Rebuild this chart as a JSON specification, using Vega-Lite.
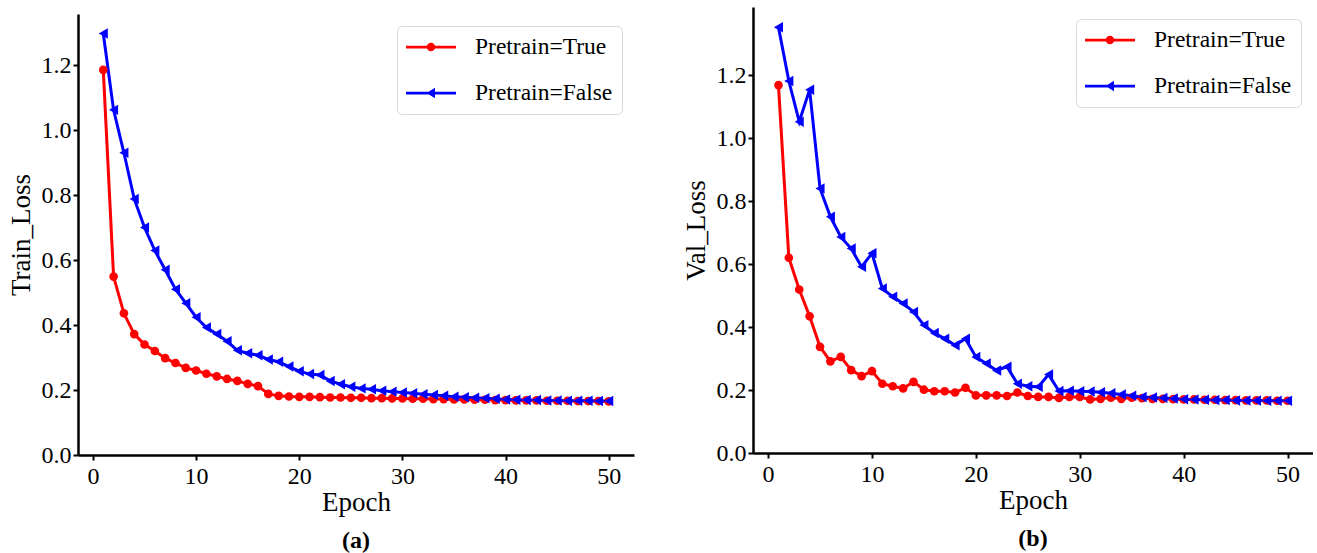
{
  "$schema": "https://vega.github.io/schema/vega-lite/v6.json",
  "padding": {"left": 7, "top": 7, "right": 0, "bottom": 0},
  "background": "white",
  "config": {
    "font": "Liberation Serif",
    "view": {"stroke": null},
    "axis": {
      "labelFont": "Liberation Serif", "titleFont": "Liberation Serif",
      "labelFontSize": 24, "titleFontSize": 27, "titleFontWeight": "normal",
      "labelColor": "black", "titleColor": "black",
      "domainColor": "black", "domainWidth": 2.5, "tickColor": "black", "tickWidth": 2, "tickSize": 5,
      "grid": false
    },
    "axisX": {"labelPadding": 4, "titlePadding": 1},
    "axisY": {"labelPadding": 2, "titlePadding": 6},
    "title": {"font": "Liberation Serif", "fontSize": 24, "fontWeight": "bold", "color": "black", "orient": "bottom", "offset": 14, "anchor": "middle"},
    "legend": {
      "orient": "top-right", "offset": 12, "padding": 9,
      "strokeColor": "#d9d9d9", "fillColor": "white", "cornerRadius": 5,
      "labelFont": "Liberation Serif", "labelFontSize": 23.5, "labelColor": "black",
      "labelOffset": 19, "symbolSize": 2500, "rowPadding": 22, "clipHeight": 24, "symbolStrokeWidth": 0,
      "symbolOpacity": 1, "labelLimit": 300
    }
  },
  "datasets": {
    "train": [
      {"e":1,"v":1.185,"s":"Pretrain=True"},{"e":2,"v":0.549,"s":"Pretrain=True"},{"e":3,"v":0.436,"s":"Pretrain=True"},{"e":4,"v":0.372,"s":"Pretrain=True"},{"e":5,"v":0.340,"s":"Pretrain=True"},
      {"e":6,"v":0.320,"s":"Pretrain=True"},{"e":7,"v":0.298,"s":"Pretrain=True"},{"e":8,"v":0.283,"s":"Pretrain=True"},{"e":9,"v":0.268,"s":"Pretrain=True"},{"e":10,"v":0.260,"s":"Pretrain=True"},
      {"e":11,"v":0.250,"s":"Pretrain=True"},{"e":12,"v":0.242,"s":"Pretrain=True"},{"e":13,"v":0.234,"s":"Pretrain=True"},{"e":14,"v":0.228,"s":"Pretrain=True"},{"e":15,"v":0.219,"s":"Pretrain=True"},
      {"e":16,"v":0.212,"s":"Pretrain=True"},{"e":17,"v":0.188,"s":"Pretrain=True"},{"e":18,"v":0.182,"s":"Pretrain=True"},{"e":19,"v":0.180,"s":"Pretrain=True"},{"e":20,"v":0.179,"s":"Pretrain=True"},
      {"e":21,"v":0.179,"s":"Pretrain=True"},{"e":22,"v":0.178,"s":"Pretrain=True"},{"e":23,"v":0.177,"s":"Pretrain=True"},{"e":24,"v":0.177,"s":"Pretrain=True"},{"e":25,"v":0.176,"s":"Pretrain=True"},
      {"e":26,"v":0.176,"s":"Pretrain=True"},{"e":27,"v":0.175,"s":"Pretrain=True"},{"e":28,"v":0.175,"s":"Pretrain=True"},{"e":29,"v":0.174,"s":"Pretrain=True"},{"e":30,"v":0.174,"s":"Pretrain=True"},
      {"e":31,"v":0.173,"s":"Pretrain=True"},{"e":32,"v":0.173,"s":"Pretrain=True"},{"e":33,"v":0.172,"s":"Pretrain=True"},{"e":34,"v":0.172,"s":"Pretrain=True"},{"e":35,"v":0.171,"s":"Pretrain=True"},
      {"e":36,"v":0.171,"s":"Pretrain=True"},{"e":37,"v":0.170,"s":"Pretrain=True"},{"e":38,"v":0.170,"s":"Pretrain=True"},{"e":39,"v":0.169,"s":"Pretrain=True"},{"e":40,"v":0.169,"s":"Pretrain=True"},
      {"e":41,"v":0.168,"s":"Pretrain=True"},{"e":42,"v":0.168,"s":"Pretrain=True"},{"e":43,"v":0.168,"s":"Pretrain=True"},{"e":44,"v":0.167,"s":"Pretrain=True"},{"e":45,"v":0.167,"s":"Pretrain=True"},
      {"e":46,"v":0.167,"s":"Pretrain=True"},{"e":47,"v":0.166,"s":"Pretrain=True"},{"e":48,"v":0.166,"s":"Pretrain=True"},{"e":49,"v":0.166,"s":"Pretrain=True"},{"e":50,"v":0.165,"s":"Pretrain=True"},
      {"e":1,"v":1.297,"s":"Pretrain=False"},{"e":2,"v":1.062,"s":"Pretrain=False"},{"e":3,"v":0.930,"s":"Pretrain=False"},{"e":4,"v":0.788,"s":"Pretrain=False"},{"e":5,"v":0.700,"s":"Pretrain=False"},
      {"e":6,"v":0.629,"s":"Pretrain=False"},{"e":7,"v":0.570,"s":"Pretrain=False"},{"e":8,"v":0.510,"s":"Pretrain=False"},{"e":9,"v":0.467,"s":"Pretrain=False"},{"e":10,"v":0.424,"s":"Pretrain=False"},
      {"e":11,"v":0.392,"s":"Pretrain=False"},{"e":12,"v":0.372,"s":"Pretrain=False"},{"e":13,"v":0.350,"s":"Pretrain=False"},{"e":14,"v":0.322,"s":"Pretrain=False"},{"e":15,"v":0.313,"s":"Pretrain=False"},
      {"e":16,"v":0.307,"s":"Pretrain=False"},{"e":17,"v":0.294,"s":"Pretrain=False"},{"e":18,"v":0.287,"s":"Pretrain=False"},{"e":19,"v":0.272,"s":"Pretrain=False"},{"e":20,"v":0.258,"s":"Pretrain=False"},
      {"e":21,"v":0.249,"s":"Pretrain=False"},{"e":22,"v":0.246,"s":"Pretrain=False"},{"e":23,"v":0.228,"s":"Pretrain=False"},{"e":24,"v":0.218,"s":"Pretrain=False"},{"e":25,"v":0.210,"s":"Pretrain=False"},
      {"e":26,"v":0.205,"s":"Pretrain=False"},{"e":27,"v":0.202,"s":"Pretrain=False"},{"e":28,"v":0.198,"s":"Pretrain=False"},{"e":29,"v":0.195,"s":"Pretrain=False"},{"e":30,"v":0.192,"s":"Pretrain=False"},
      {"e":31,"v":0.190,"s":"Pretrain=False"},{"e":32,"v":0.187,"s":"Pretrain=False"},{"e":33,"v":0.185,"s":"Pretrain=False"},{"e":34,"v":0.182,"s":"Pretrain=False"},{"e":35,"v":0.179,"s":"Pretrain=False"},
      {"e":36,"v":0.178,"s":"Pretrain=False"},{"e":37,"v":0.176,"s":"Pretrain=False"},{"e":38,"v":0.175,"s":"Pretrain=False"},{"e":39,"v":0.173,"s":"Pretrain=False"},{"e":40,"v":0.171,"s":"Pretrain=False"},
      {"e":41,"v":0.170,"s":"Pretrain=False"},{"e":42,"v":0.169,"s":"Pretrain=False"},{"e":43,"v":0.169,"s":"Pretrain=False"},{"e":44,"v":0.168,"s":"Pretrain=False"},{"e":45,"v":0.168,"s":"Pretrain=False"},
      {"e":46,"v":0.167,"s":"Pretrain=False"},{"e":47,"v":0.167,"s":"Pretrain=False"},{"e":48,"v":0.167,"s":"Pretrain=False"},{"e":49,"v":0.166,"s":"Pretrain=False"},{"e":50,"v":0.166,"s":"Pretrain=False"}
    ],
    "val": [
      {"e":1,"v":1.168,"s":"Pretrain=True"},{"e":2,"v":0.620,"s":"Pretrain=True"},{"e":3,"v":0.519,"s":"Pretrain=True"},{"e":4,"v":0.434,"s":"Pretrain=True"},{"e":5,"v":0.337,"s":"Pretrain=True"},
      {"e":6,"v":0.291,"s":"Pretrain=True"},{"e":7,"v":0.305,"s":"Pretrain=True"},{"e":8,"v":0.263,"s":"Pretrain=True"},{"e":9,"v":0.244,"s":"Pretrain=True"},{"e":10,"v":0.260,"s":"Pretrain=True"},
      {"e":11,"v":0.220,"s":"Pretrain=True"},{"e":12,"v":0.212,"s":"Pretrain=True"},{"e":13,"v":0.205,"s":"Pretrain=True"},{"e":14,"v":0.226,"s":"Pretrain=True"},{"e":15,"v":0.201,"s":"Pretrain=True"},
      {"e":16,"v":0.196,"s":"Pretrain=True"},{"e":17,"v":0.196,"s":"Pretrain=True"},{"e":18,"v":0.192,"s":"Pretrain=True"},{"e":19,"v":0.207,"s":"Pretrain=True"},{"e":20,"v":0.183,"s":"Pretrain=True"},
      {"e":21,"v":0.183,"s":"Pretrain=True"},{"e":22,"v":0.183,"s":"Pretrain=True"},{"e":23,"v":0.181,"s":"Pretrain=True"},{"e":24,"v":0.192,"s":"Pretrain=True"},{"e":25,"v":0.181,"s":"Pretrain=True"},
      {"e":26,"v":0.178,"s":"Pretrain=True"},{"e":27,"v":0.178,"s":"Pretrain=True"},{"e":28,"v":0.175,"s":"Pretrain=True"},{"e":29,"v":0.178,"s":"Pretrain=True"},{"e":30,"v":0.178,"s":"Pretrain=True"},
      {"e":31,"v":0.170,"s":"Pretrain=True"},{"e":32,"v":0.172,"s":"Pretrain=True"},{"e":33,"v":0.176,"s":"Pretrain=True"},{"e":34,"v":0.172,"s":"Pretrain=True"},{"e":35,"v":0.176,"s":"Pretrain=True"},
      {"e":36,"v":0.174,"s":"Pretrain=True"},{"e":37,"v":0.172,"s":"Pretrain=True"},{"e":38,"v":0.172,"s":"Pretrain=True"},{"e":39,"v":0.171,"s":"Pretrain=True"},{"e":40,"v":0.170,"s":"Pretrain=True"},
      {"e":41,"v":0.170,"s":"Pretrain=True"},{"e":42,"v":0.169,"s":"Pretrain=True"},{"e":43,"v":0.169,"s":"Pretrain=True"},{"e":44,"v":0.168,"s":"Pretrain=True"},{"e":45,"v":0.168,"s":"Pretrain=True"},
      {"e":46,"v":0.167,"s":"Pretrain=True"},{"e":47,"v":0.167,"s":"Pretrain=True"},{"e":48,"v":0.167,"s":"Pretrain=True"},{"e":49,"v":0.166,"s":"Pretrain=True"},{"e":50,"v":0.166,"s":"Pretrain=True"},
      {"e":1,"v":1.352,"s":"Pretrain=False"},{"e":2,"v":1.181,"s":"Pretrain=False"},{"e":3,"v":1.052,"s":"Pretrain=False"},{"e":4,"v":1.153,"s":"Pretrain=False"},{"e":5,"v":0.840,"s":"Pretrain=False"},
      {"e":6,"v":0.750,"s":"Pretrain=False"},{"e":7,"v":0.686,"s":"Pretrain=False"},{"e":8,"v":0.649,"s":"Pretrain=False"},{"e":9,"v":0.591,"s":"Pretrain=False"},{"e":10,"v":0.634,"s":"Pretrain=False"},
      {"e":11,"v":0.522,"s":"Pretrain=False"},{"e":12,"v":0.496,"s":"Pretrain=False"},{"e":13,"v":0.475,"s":"Pretrain=False"},{"e":14,"v":0.448,"s":"Pretrain=False"},{"e":15,"v":0.406,"s":"Pretrain=False"},
      {"e":16,"v":0.381,"s":"Pretrain=False"},{"e":17,"v":0.363,"s":"Pretrain=False"},{"e":18,"v":0.342,"s":"Pretrain=False"},{"e":19,"v":0.363,"s":"Pretrain=False"},{"e":20,"v":0.305,"s":"Pretrain=False"},
      {"e":21,"v":0.284,"s":"Pretrain=False"},{"e":22,"v":0.262,"s":"Pretrain=False"},{"e":23,"v":0.274,"s":"Pretrain=False"},{"e":24,"v":0.220,"s":"Pretrain=False"},{"e":25,"v":0.212,"s":"Pretrain=False"},
      {"e":26,"v":0.210,"s":"Pretrain=False"},{"e":27,"v":0.249,"s":"Pretrain=False"},{"e":28,"v":0.197,"s":"Pretrain=False"},{"e":29,"v":0.198,"s":"Pretrain=False"},{"e":30,"v":0.196,"s":"Pretrain=False"},
      {"e":31,"v":0.195,"s":"Pretrain=False"},{"e":32,"v":0.193,"s":"Pretrain=False"},{"e":33,"v":0.190,"s":"Pretrain=False"},{"e":34,"v":0.186,"s":"Pretrain=False"},{"e":35,"v":0.182,"s":"Pretrain=False"},
      {"e":36,"v":0.178,"s":"Pretrain=False"},{"e":37,"v":0.176,"s":"Pretrain=False"},{"e":38,"v":0.175,"s":"Pretrain=False"},{"e":39,"v":0.173,"s":"Pretrain=False"},{"e":40,"v":0.171,"s":"Pretrain=False"},
      {"e":41,"v":0.170,"s":"Pretrain=False"},{"e":42,"v":0.169,"s":"Pretrain=False"},{"e":43,"v":0.168,"s":"Pretrain=False"},{"e":44,"v":0.168,"s":"Pretrain=False"},{"e":45,"v":0.167,"s":"Pretrain=False"},
      {"e":46,"v":0.167,"s":"Pretrain=False"},{"e":47,"v":0.167,"s":"Pretrain=False"},{"e":48,"v":0.166,"s":"Pretrain=False"},{"e":49,"v":0.166,"s":"Pretrain=False"},{"e":50,"v":0.166,"s":"Pretrain=False"}
    ]
  },
  "spacing": 48,
  "resolve": {"scale": {"color": "independent", "stroke": "independent", "shape": "independent", "size": "independent"}, "legend": {"color": "independent", "stroke": "independent", "shape": "independent", "size": "independent"}},
  "hconcat": [
    {
      "spacing": 6,
      "resolve": {"scale": {"color": "independent", "stroke": "independent", "shape": "independent", "size": "independent"}, "legend": {"color": "independent", "stroke": "independent", "shape": "independent", "size": "independent"}},
      "vconcat": [
        {"width": 556, "height": 1, "data": {"values": []}, "mark": {"type": "point"}, "encoding": {}},
        {
          "width": 556, "height": 441,
          "title": {"text": "(a)"},
          "data": {"name": "train"},
          "encoding": {
            "x": {"field": "e", "type": "quantitative", "scale": {"domain": [-1.45, 52.45], "nice": false, "zero": false}, "axis": {"values": [0, 10, 20, 30, 40, 50], "title": "Epoch"}},
            "y": {"field": "v", "type": "quantitative", "scale": {"domain": [0, 1.357], "nice": false, "zero": false}, "axis": {"values": [0, 0.2, 0.4, 0.6, 0.8, 1.0, 1.2], "format": ".1f", "title": "Train_Loss"}}
          },
          "layer": [
            {"mark": {"type": "line", "strokeWidth": 3},
             "encoding": {"stroke": {"field": "s", "type": "nominal", "scale": {"domain": ["Pretrain=False", "Pretrain=True"], "range": ["#0000ff", "#ff0000"]}, "legend": null}}},
            {
              "mark": {"type": "point", "filled": true, "opacity": 1},
              "encoding": {
                "color": {"field": "s", "type": "nominal", "scale": {"domain": ["Pretrain=True", "Pretrain=False"], "range": ["#ff0000", "#0000ff"]},
                  "legend": {"title": null, "labelFont": "Liberation Serif", "labelFontSize": 23.5, "clipHeight": 24, "rowPadding": 22,
                    "encode": {
                      "labels": {"update": {"font": {"value": "Liberation Serif"}, "fontSize": {"value": 23.5}, "fill": {"value": "black"}}},
                      "symbols": {"update": {
                      "shape": [{"test": "datum.value === 'Pretrain=False'", "value": "M-1,-0.055H1V0.055H-1Z M-0.18,0L0.16,-0.21L0.16,0.21Z"}, {"value": "M-1,-0.055H1V0.055H-1Z M-0.17,0A0.17,0.17,0,1,1,0.17,0A0.17,0.17,0,1,1,-0.17,0Z"}],
                      "size": {"value": 2500},
                      "strokeWidth": {"value": 0}
                    }}}}},
                "shape": {"field": "s", "type": "nominal", "scale": {"domain": ["Pretrain=False", "Pretrain=True"], "range": ["triangle-left", "circle"]}, "legend": null},
                "size": {"field": "s", "type": "nominal", "scale": {"domain": ["Pretrain=False", "Pretrain=True"], "range": [110, 75]}, "legend": null}
              }
            }
          ]
        }
      ]
    },
    {
      "width": 560, "height": 446,
      "title": {"text": "(b)"},
      "data": {"name": "val"},
      "encoding": {
        "x": {"field": "e", "type": "quantitative", "scale": {"domain": [-1.45, 52.45], "nice": false, "zero": false}, "axis": {"values": [0, 10, 20, 30, 40, 50], "title": "Epoch"}},
        "y": {"field": "v", "type": "quantitative", "scale": {"domain": [0, 1.416], "nice": false, "zero": false}, "axis": {"values": [0, 0.2, 0.4, 0.6, 0.8, 1.0, 1.2], "format": ".1f", "title": "Val_Loss"}}
      },
      "layer": [
        {"mark": {"type": "line", "strokeWidth": 3},
         "encoding": {"stroke": {"field": "s", "type": "nominal", "scale": {"domain": ["Pretrain=False", "Pretrain=True"], "range": ["#0000ff", "#ff0000"]}, "legend": null}}},
        {
          "mark": {"type": "point", "filled": true, "opacity": 1},
          "encoding": {
            "color": {"field": "s", "type": "nominal", "scale": {"domain": ["Pretrain=True", "Pretrain=False"], "range": ["#ff0000", "#0000ff"]},
              "legend": {"title": null, "labelFont": "Liberation Serif", "labelFontSize": 23.5, "clipHeight": 24, "rowPadding": 22,
                "encode": {
                  "labels": {"update": {"font": {"value": "Liberation Serif"}, "fontSize": {"value": 23.5}, "fill": {"value": "black"}}},
                  "symbols": {"update": {
                  "shape": [{"test": "datum.value === 'Pretrain=False'", "value": "M-1,-0.055H1V0.055H-1Z M-0.18,0L0.16,-0.21L0.16,0.21Z"}, {"value": "M-1,-0.055H1V0.055H-1Z M-0.17,0A0.17,0.17,0,1,1,0.17,0A0.17,0.17,0,1,1,-0.17,0Z"}],
                  "size": {"value": 2500},
                  "strokeWidth": {"value": 0}
                }}}}},
            "shape": {"field": "s", "type": "nominal", "scale": {"domain": ["Pretrain=False", "Pretrain=True"], "range": ["triangle-left", "circle"]}, "legend": null},
            "size": {"field": "s", "type": "nominal", "scale": {"domain": ["Pretrain=False", "Pretrain=True"], "range": [110, 75]}, "legend": null}
          }
        }
      ]
    }
  ]
}
